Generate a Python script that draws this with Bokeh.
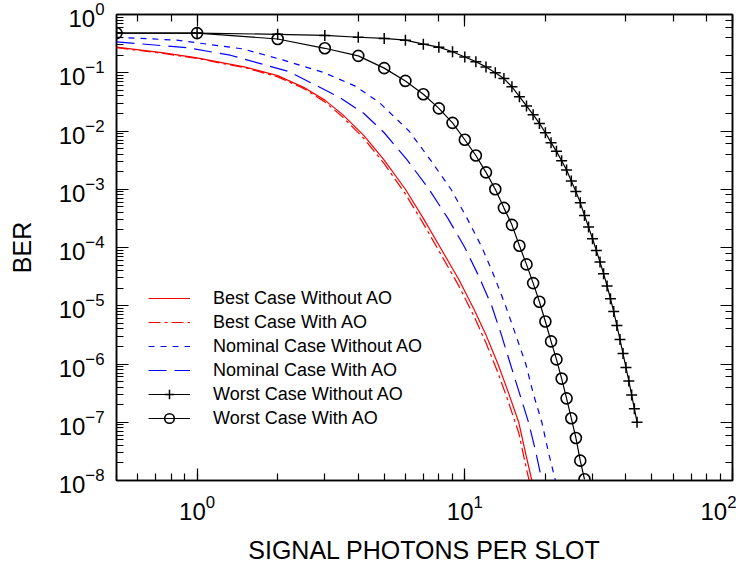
from bokeh.plotting import figure
from bokeh.models import LogAxis, Legend, LegendItem, LogTicker, ColumnDataSource
from bokeh.embed import file_html
from bokeh.resources import INLINE

# ---------------- data ----------------
best_wo_x = [0.5, 0.75, 1.0, 1.25, 1.5, 2.0, 2.5, 3.0, 3.5, 4.2, 5.0, 6.0, 7.0, 8.1, 9.5, 10.8, 12.0, 13.3, 14.5, 15.9, 17.0, 17.8]
best_wo_y = [0.275, 0.219, 0.180, 0.148, 0.126, 0.0891, 0.0562, 0.0339, 0.0191, 8.32e-3, 3.16e-3, 1e-3, 3.16e-4, 1e-4, 2.82e-5, 8.91e-6, 3.16e-6, 1e-6, 3.39e-7, 1e-7, 2.51e-8, 1e-8]

best_ao_x = [0.5, 0.75, 1.0, 1.25, 1.5, 2.0, 2.5, 3.0, 3.5, 4.2, 5.0, 6.0, 7.0, 8.1, 9.5, 10.8, 12.0, 13.3, 14.5, 15.9, 17.0, 17.8]
best_ao_y = [0.269, 0.214, 0.176, 0.144, 0.123, 0.0851, 0.0537, 0.0316, 0.0174, 7.41e-3, 2.75e-3, 8.32e-4, 2.57e-4, 7.94e-5, 2.19e-5, 6.76e-6, 2.29e-6, 7.08e-7, 2.34e-7, 6.61e-8, 1.58e-8, 6.31e-9]

nom_wo_x = [0.5, 0.84, 1.48, 2.09, 2.99, 3.9, 4.79, 6.19, 7.45, 8.88, 10.2, 11.6, 12.9, 14.2, 15.5, 16.9, 18.0, 19.4, 20.5, 21.8]
nom_wo_y = [0.407, 0.363, 0.257, 0.166, 0.1, 0.0589, 0.0309, 0.01, 3.16e-3, 1e-3, 3.16e-4, 1e-4, 3.16e-5, 1e-5, 3.16e-6, 1e-6, 3.16e-7, 1e-7, 3.16e-8, 1e-8]

nom_ao_x = [0.5, 0.92, 1.33, 2.2, 3.4, 4.2, 5.0, 6.1, 7.35, 8.65, 10.0, 11.3, 12.6, 13.7, 14.8, 16.0, 17.3, 18.4, 19.4]
nom_ao_y = [0.339, 0.269, 0.200, 0.105, 0.038, 0.020, 9.33e-3, 3.16e-3, 1e-3, 3.16e-4, 1e-4, 3.16e-5, 1e-5, 3.16e-6, 1e-6, 3.16e-7, 1e-7, 3.16e-8, 1e-8]

worst_wo_x = [0.5, 1, 2, 3, 4, 5, 6, 7, 8, 9, 10, 11, 12, 13, 14, 15, 16, 17, 18, 19, 20, 21, 22, 23, 24, 25, 26, 27, 28, 29, 30,
              31, 32, 33, 34, 35, 36, 37, 38, 39, 40, 41, 42, 43, 44]
worst_wo_y = [0.479, 0.479, 0.457, 0.437, 0.407, 0.389, 0.363, 0.309, 0.275, 0.229, 0.186, 0.155, 0.126, 0.1, 0.0794,
              0.0575, 0.0389, 0.0269, 0.0191, 0.0135, 9.33e-3, 6.31e-3, 4.47e-3, 3.09e-3, 2.14e-3, 1.38e-3, 9.12e-4,
              5.89e-4, 3.55e-4, 2.24e-4, 1.41e-4, 8.91e-5, 5.62e-5, 3.55e-5, 2.19e-5, 1.32e-5, 7.94e-6, 4.57e-6,
              2.63e-6, 1.51e-6, 8.71e-7, 5.13e-7, 2.95e-7, 1.70e-7, 1.0e-7]

worst_ao_x = [0.5, 1, 2, 3, 4, 5, 6, 7, 8, 9, 10, 11, 12, 13, 14, 15, 16, 17, 18, 19, 20, 21, 22, 23, 24, 25, 26, 27, 28]
worst_ao_y = [0.479, 0.479, 0.380, 0.263, 0.195, 0.120, 0.0724, 0.0427, 0.0245, 0.0138, 7.08e-3, 3.80e-3, 1.95e-3,
              1.0e-3, 4.79e-4, 2.45e-4, 1.07e-4, 5.13e-5, 2.45e-5, 1.17e-5, 5.37e-6, 2.45e-6, 1.20e-6, 5.62e-7,
              2.57e-7, 1.17e-7, 5.37e-8, 2.19e-8, 1.05e-8]

labels = ["Best Case Without AO", "Best Case With AO", "Nominal Case Without AO",
          "Nominal Case With AO", "Worst Case Without AO", "Worst Case With AO"]
colors = ["red", "red", "blue", "blue", "black", "black"]

FONT = "Liberation Sans"

p = figure(width=736, height=570, x_axis_type="log", y_axis_type="log",
           x_range=(0.5, 100), y_range=(1e-8, 1),
           output_backend="svg", toolbar_location=None,
           min_border_left=116, min_border_right=4, min_border_top=14, min_border_bottom=90)
p.grid.visible = False
p.outline_line_color = "black"
p.outline_line_width = 1.5
p.background_fill_color = "white"
p.border_fill_color = "white"

def style_axis(ax, show_labels=True):
    ax.major_tick_in = 12
    ax.major_tick_out = 0
    ax.minor_tick_in = 7
    ax.minor_tick_out = 0
    ax.axis_line_width = 1.5
    ax.major_tick_line_width = 1.2
    ax.minor_tick_line_width = 1.2
    ax.axis_line_color = "black"
    ax.major_tick_line_color = "black"
    ax.minor_tick_line_color = "black"
    if show_labels:
        ax.major_label_text_font = FONT
        ax.major_label_text_font_size = "24px"
        ax.major_label_text_color = "black"
        ax.axis_label_text_font = FONT
        ax.axis_label_text_font_size = "25px"
        ax.axis_label_text_font_style = "normal"
        ax.axis_label_text_color = "black"
    else:
        ax.major_label_text_font_size = "1px"
        ax.major_label_text_alpha = 0
        ax.major_label_standoff = 0

xa = p.xaxis[0]
ya = p.yaxis[0]
style_axis(xa)
style_axis(ya)
xa.axis_label = "SIGNAL PHOTONS PER SLOT"
ya.axis_label = "BER"
xa.major_label_standoff = 14
xa.axis_label_standoff = 13
ya.major_label_standoff = 12
ya.axis_label_standoff = 20

top_ax = LogAxis(ticker=LogTicker())
right_ax = LogAxis(ticker=LogTicker())
style_axis(top_ax, False)
style_axis(right_ax, False)
p.add_layout(top_ax, "above")
p.add_layout(right_ax, "right")

def src(x, y, c):
    return ColumnDataSource(dict(x=x, y=y, c=[c] * len(x)))

s1 = src(best_wo_x, best_wo_y, colors[0])
s2 = src(best_ao_x, best_ao_y, colors[1])
s3 = src(nom_wo_x, nom_wo_y, colors[2])
s4 = src(nom_ao_x, nom_ao_y, colors[3])
s5 = src(worst_wo_x, worst_wo_y, colors[4])
s6 = src(worst_ao_x, worst_ao_y, colors[5])

r1 = p.line("x", "y", source=s1, line_color=colors[0], line_width=1.2)
r2 = p.line("x", "y", source=s2, line_color=colors[1], line_width=1.2, line_dash="12 4 3 4")
r3 = p.line("x", "y", source=s3, line_color=colors[2], line_width=1.2, line_dash="6 6")
r4 = p.line("x", "y", source=s4, line_color=colors[3], line_width=1.2, line_dash="18 8")
r5 = p.line("x", "y", source=s5, line_color=colors[4], line_width=1.2)
r5m = p.scatter("x", "y", source=s5, marker="cross", size=11, line_color="c", line_width=1.5)
r6 = p.line("x", "y", source=s6, line_color=colors[5], line_width=1.2)
r6m = p.scatter("x", "y", source=s6, marker="circle", size=11, line_color="c", line_width=1.6,
                fill_color=None)

legend = Legend(items=[
    LegendItem(label=labels[0], renderers=[r1], index=0),
    LegendItem(label=labels[1], renderers=[r2], index=0),
    LegendItem(label=labels[2], renderers=[r3], index=0),
    LegendItem(label=labels[3], renderers=[r4], index=0),
    LegendItem(label=labels[4], renderers=[r5, r5m], index=0),
    LegendItem(label=labels[5], renderers=[r6, r6m], index=0),
], location=(32, 50))
legend.border_line_color = None
legend.background_fill_alpha = 0
legend.glyph_width = 42
legend.glyph_height = 24
legend.label_height = 24
legend.spacing = 0
legend.padding = 0
legend.margin = 0
legend.label_standoff = 23
legend.label_text_font = FONT
legend.label_text_font_size = "18px"
legend.label_text_color = "black"
p.add_layout(legend)

open("out.html", "w").write(file_html(p, INLINE))
